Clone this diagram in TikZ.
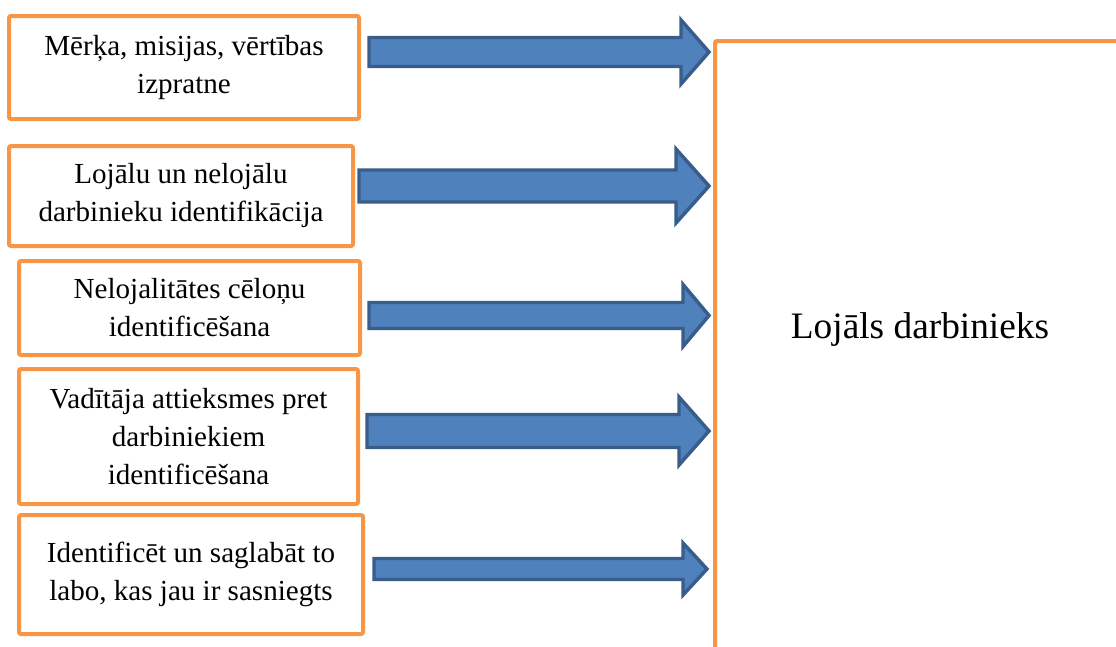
\documentclass[tikz,border=0pt]{standalone}
\usepackage{fontspec}
\setmainfont{Liberation Serif}
\usetikzlibrary{calc}
\definecolor{boxorange}{HTML}{F79646}
\definecolor{arrowfill}{HTML}{4F81BD}
\definecolor{arrowline}{HTML}{385D8A}
\newcommand{\px}{0.75pt}
\tikzstyle{goal} = [rectangle, draw=boxorange, line width=3pt, rounded corners=1.5pt, align=center, inner sep=0pt, font=\fontsize{21.8pt}{28.5pt}\selectfont]
\tikzstyle{frame} = [draw=boxorange, line width=3pt, rounded corners=1.5pt]
\tikzstyle{bigarrow} = [fill=arrowfill, draw=arrowline, line width=2.6pt, line join=miter]
\tikzstyle{result} = [inner sep=0pt, font=\fontsize{28pt}{34pt}\selectfont]

\begin{document}
\begin{tikzpicture}[x=\px, y=-\px]
\useasboundingbox (0,0) rectangle (1116,646);

\node [goal, minimum width=350*\px, minimum height=103*\px] (b1) at (184,67.5) {Mērķa, misijas, vērtības\\izpratne};
\node [goal, minimum width=344*\px, minimum height=100*\px] (b2) at (181,196) {Lojālu un nelojālu\\darbinieku identifikācija};
\node [goal, minimum width=341*\px, minimum height=94*\px] (b3) at (189.5,308) {Nelojalitātes cēloņu\\identificēšana};
\node [goal, minimum width=339*\px, minimum height=135*\px] (b4) at (188.5,436.5) {Vadītāja attieksmes pret\\darbiniekiem\\identificēšana};
\node [goal, minimum width=344*\px, minimum height=119*\px] (b5) at (191,574.5) {Identificēt un saglabāt to\\labo, kas jau ir sasniegts};

\coordinate (corner) at (715,41);
\path [frame] (corner |- 0,660) -- (corner) -- (1130,41);
\node [result] (loyal) at (920,330) {Lojāls darbinieks};

\foreach \i/\ty/\tx/\gap/\shaft/\head/\hlen in {1/52/709/8/14.5/32/28, 2/186/709/4/16/37/33, 3/315.5/709/7/13/31/26, 4/431/709/7/16.5/34/30, 5/569/707/9/10.5/26/24}{
  \coordinate (t\i) at (\tx,\ty);
  \path [bigarrow] ($(b\i.east |- t\i)+(\gap,-\shaft)$) -- ($(t\i)+(-\hlen,-\shaft)$) -- ($(t\i)+(-\hlen,-\head)$) -- (t\i) -- ($(t\i)+(-\hlen,\head)$) -- ($(t\i)+(-\hlen,\shaft)$) -- ($(b\i.east |- t\i)+(\gap,\shaft)$) -- cycle;
}

\end{tikzpicture}
\end{document}
